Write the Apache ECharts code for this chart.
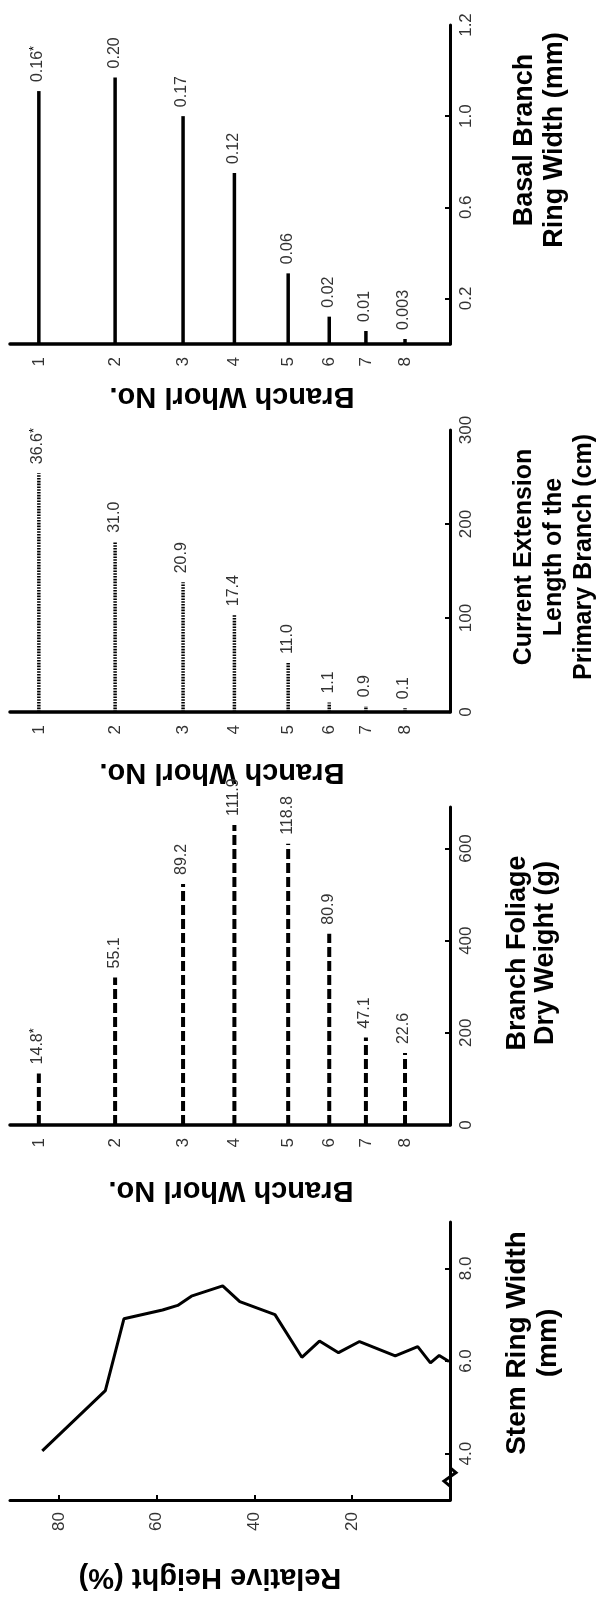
<!DOCTYPE html>
<html>
<head>
<meta charset="utf-8">
<script src="https://cdn.jsdelivr.net/npm/echarts@6/dist/echarts.min.js"></script>
<style>
  html, body { margin: 0; padding: 0; background: #fff; }
  #chart { width: 599px; height: 1597px; }
</style>
</head>
<body>
<div id="chart"></div>
<script>
// branch whorls, placed along relative height (%)
const whorlNo = ['1', '2', '3', '4', '5', '6', '7', '8'];
const whorlHeight = [84.1, 68.5, 54.6, 44.1, 33.1, 24.7, 17.2, 9.2];

// basal branch ring width (mm)
const basalWidth = [1.11, 1.17, 1.00, 0.75, 0.31, 0.12, 0.057, 0.022];
const basalLabel = ['0.16*', '0.20', '0.17', '0.12', '0.06', '0.02', '0.01', '0.003'];
const basalTickValues = [0.2, 0.6, 1.0, 1.4];
const basalTickText = ['0.2', '0.6', '1.0', '1.2'];

// current extension length of the primary branch (cm)
const extension = [254, 181, 138, 103, 52, 10, 6, 4];
const extensionLabel = ['36.6*', '31.0', '20.9', '17.4', '11.0', '1.1', '0.9', '0.1'];
const extensionTicks = [0, 100, 200, 300];

// branch foliage dry weight (g)
const foliage = [112, 320, 523, 651, 610, 415, 190, 156];
const foliageLabel = ['14.8*', '55.1', '89.2', '111.9', '118.8', '80.9', '47.1', '22.6'];
const foliageTicks = [0, 200, 400, 600];

// stem ring width (mm) against relative height (%)
const stemHeight = [83.4, 70.5, 66.7, 58.8, 55.7, 52.9, 46.5, 43.0, 35.8, 30.3, 26.7, 22.8, 18.5, 11.2, 6.6, 4.0, 2.2, 0.2];
const stemWidth = [4.06, 5.36, 6.91, 7.10, 7.20, 7.40, 7.62, 7.28, 7.00, 6.08, 6.43, 6.18, 6.42, 6.11, 6.31, 5.96, 6.12, 5.99];
const heightTicks = [20, 40, 60, 80];
const stemTicks = [4, 6, 8];

const font = '"Liberation Sans", Arial, sans-serif';
const chart = echarts.init(document.getElementById('chart'));

function whorlAxis(i) {
    return {
        type: 'value', gridIndex: i, inverse: true, min: 0, max: 90,
        axisLine: { onZero: false, lineStyle: { color: '#000', width: 3.5 } },
        axisTick: { show: false },
        splitLine: { show: false },
        axisLabel: {
            customValues: whorlHeight, rotate: 90, margin: 13,
            fontSize: 17, color: '#333', fontFamily: font,
            formatter: function (v) {
                const k = whorlHeight.findIndex(h => Math.abs(h - v) < 1e-6);
                return k >= 0 ? whorlNo[k] : '';
            }
        }
    };
}

function valueAxis(i, max, labels, ticks, fmt, min) {
    return {
        type: 'value', gridIndex: i, position: 'right', min: min || 0, max: max,
        axisLine: { show: true, onZero: false, lineStyle: { color: '#000', width: 3 } },
        axisTick: { show: true, inside: true, length: 5, customValues: ticks, lineStyle: { color: '#000', width: 2 } },
        splitLine: { show: false },
        axisLabel: {
            customValues: labels, rotate: 90, margin: 8,
            fontSize: 17, color: '#333', fontFamily: font, formatter: fmt
        }
    };
}

function stems(i, values, labels, dash, width) {
    return {
        type: 'custom', xAxisIndex: i, yAxisIndex: i,
        data: whorlHeight.map((h, k) => [h, values[k]]),
        renderItem: function (params, api) {
            const base = api.coord([api.value(0), 0]);
            const top = api.coord([api.value(0), api.value(1)]);
            const lab = labels[params.dataIndex];
            const star = lab.endsWith('*');
            const txt = star ? '{v|' + lab.slice(0, -1) + '}{s|*}' : '{v|' + lab + '}';
            return {
                type: 'group',
                children: [{
                    type: 'line',
                    shape: { x1: base[0], y1: base[1], x2: top[0], y2: top[1] },
                    style: { stroke: '#000', lineWidth: width, lineDash: dash }
                }, {
                    type: 'text', x: top[0] - 1, y: top[1] - 9, rotation: Math.PI / 2,
                    style: {
                        text: txt, fill: '#333',
                        align: 'left', verticalAlign: 'middle',
                        textAlign: 'left', textVerticalAlign: 'middle',
                        rich: {
                            v: { fontSize: 16, fontFamily: font, fill: '#333', lineHeight: 20 },
                            s: { fontSize: 13, fontFamily: font, fill: '#000', verticalAlign: 'top', lineHeight: 20 }
                        }
                    }
                }]
            };
        }
    };
}

function title(x, y, text, size, lh, rot) {
    return {
        type: 'text', x: x, y: y, rotation: rot,
        style: {
            text: text, fill: '#000', font: 'bold ' + size + 'px ' + font, lineHeight: lh,
            align: 'center', verticalAlign: 'middle',
            textAlign: 'center', textVerticalAlign: 'middle'
        }
    };
}

const up = Math.PI / 2;
const flip = Math.PI;

chart.setOption({
    backgroundColor: '#fff',
    animation: false,
    grid: [
        { left: 10, right: 149, top: 25, height: 319 },
        { left: 10, right: 149, top: 430, height: 282 },
        { left: 10, right: 149, top: 807, height: 318 },
        { left: 10, right: 149, top: 1222, height: 278 }
    ],
    xAxis: [
        whorlAxis(0), whorlAxis(1), whorlAxis(2),
        {
            type: 'value', gridIndex: 3, inverse: true, min: 0, max: 90,
            axisLine: { onZero: false, lineStyle: { color: '#000', width: 3 } },
            axisTick: { show: true, inside: true, length: 5, customValues: heightTicks, lineStyle: { color: '#000', width: 2 } },
            splitLine: { show: false },
            axisLabel: { customValues: heightTicks, rotate: 90, margin: 12, fontSize: 17, color: '#333', fontFamily: font }
        }
    ],
    yAxis: [
        valueAxis(0, 1.4, basalTickValues, [0.2, 0.6, 1.0],
            v => basalTickText[basalTickValues.findIndex(t => Math.abs(t - v) < 1e-6)] || ''),
        valueAxis(1, 300, extensionTicks, [100, 200], v => String(v)),
        valueAxis(2, 690, foliageTicks, [200, 400, 600], v => String(v)),
        valueAxis(3, 9, stemTicks, stemTicks, v => v.toFixed(1), 3)
    ],
    series: [
        stems(0, basalWidth, basalLabel, null, 3.5),
        stems(1, extension, extensionLabel, [1.6, 1.2], 3.5),
        stems(2, foliage, foliageLabel, [10, 4], 4),
        {
            type: 'line', xAxisIndex: 3, yAxisIndex: 3,
            data: stemHeight.map((h, k) => [h, stemWidth[k]]),
            showSymbol: false, symbol: 'none',
            lineStyle: { color: '#000', width: 3 }
        }
    ],
    graphic: [
        title(540, 140, 'Basal Branch\nRing Width (mm)', 27, 30, up),
        title(554, 557, 'Current Extension\nLength of the\nPrimary Branch (cm)', 25, 30, up),
        title(532, 953, 'Branch Foliage\nDry Weight (g)', 27, 28, up),
        title(533, 1343, 'Stem Ring Width\n(mm)', 28, 31, up),
        title(232, 396, 'Branch Whorl No.', 29, 32, flip),
        title(222, 772, 'Branch Whorl No.', 29, 32, flip),
        title(231, 1190, 'Branch Whorl No.', 29, 32, flip),
        title(210, 1577, 'Relative Height (%)', 29, 32, flip)
    ]
});

// axis break mark on the stem ring width axis
const a = chart.convertToPixel({ xAxisIndex: 3, yAxisIndex: 3 }, [0, 3.3]);
const b = chart.convertToPixel({ xAxisIndex: 3, yAxisIndex: 3 }, [0, 3.7]);
chart.setOption({
    graphic: [
        { type: 'rect', id: 'gapCover', shape: { x: a[0] - 4, y: b[1], width: 8, height: a[1] - b[1] }, style: { fill: '#fff' } },
        {
            type: 'polyline', id: 'gapZig',
            shape: { points: [[a[0], a[1]], [a[0] - 6, a[1] - 5], [a[0] + 6, b[1] + 5], [b[0], b[1]]] },
            style: { stroke: '#000', lineWidth: 3, fill: null }
        }
    ]
});
</script>
</body>
</html>
